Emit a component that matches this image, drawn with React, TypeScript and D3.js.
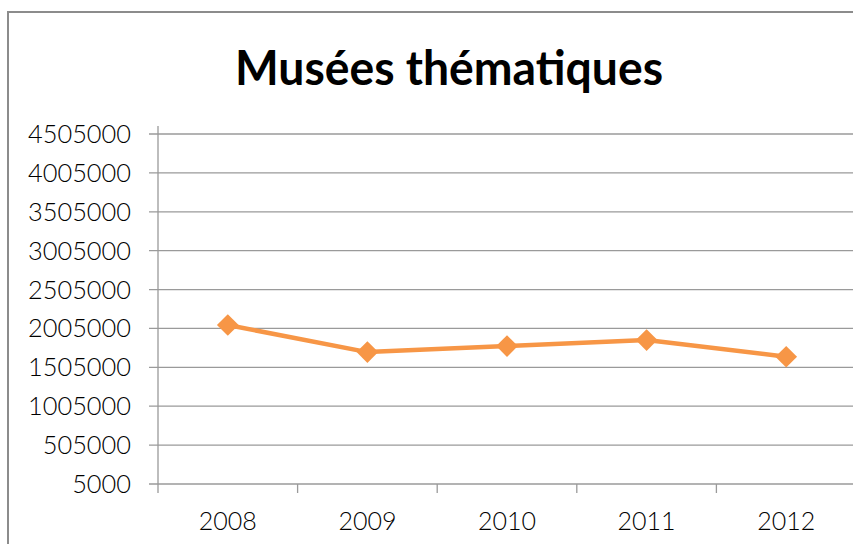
import React, { useRef, useEffect } from 'react';
import * as d3 from 'd3';

const title = 'Musées thématiques';
const years = ['2008', '2009', '2010', '2011', '2012'];
const visitors = [2049000, 1701000, 1778000, 1856000, 1641000];
const yTicks = [5000, 505000, 1005000, 1505000, 2005000, 2505000, 3005000, 3505000, 4005000, 4505000];

const W = 853, H = 544;
const FONT = 'Lato, "DejaVu Sans", sans-serif';

export const App: React.FC = () => {
  const svgRef = useRef<SVGSVGElement>(null);

  useEffect(() => {
    const svg = d3.select(svgRef.current as SVGSVGElement);
    svg.selectAll('*').remove();

    const left = 158, top = 134, bottom = 484;
    const band = 139.6;

    const x = d3.scaleBand<string>()
      .domain(years)
      .range([left, left + band * years.length])
      .padding(0);
    const y = d3.scaleLinear().domain([5000, 4505000]).range([bottom, top]);

    // chart frame
    svg.append('rect')
      .attr('x', 8).attr('y', 12)
      .attr('width', 900).attr('height', 600)
      .attr('fill', '#fff')
      .attr('stroke', '#8c8c8c')
      .attr('stroke-width', 2);

    // title
    svg.append('text')
      .attr('x', 449).attr('y', 85)
      .attr('text-anchor', 'middle')
      .attr('font-family', FONT)
      .attr('font-weight', 'bold')
      .attr('font-size', 47)
      .attr('textLength', 428)
      .attr('lengthAdjust', 'spacingAndGlyphs')
      .attr('fill', '#000')
      .text(title);

    // gridlines + y ticks
    const g = svg.append('g');
    yTicks.forEach(t => {
      g.append('line')
        .attr('x1', left - 9).attr('x2', W + 10)
        .attr('y1', y(t)).attr('y2', y(t))
        .attr('stroke', '#9a9a9a').attr('stroke-width', 1.3);
      g.append('text')
        .attr('x', 131).attr('y', y(t) + 9)
        .attr('text-anchor', 'end')
        .attr('font-family', FONT)
        .attr('font-weight', 300)
        .attr('font-size', 25)
        .attr('textLength', 103 * String(t).length / 7)
        .attr('lengthAdjust', 'spacingAndGlyphs')
        .attr('fill', '#000')
        .text(String(t));
    });

    // y axis
    g.append('line')
      .attr('x1', left).attr('x2', left)
      .attr('y1', top - 8).attr('y2', bottom + 9)
      .attr('stroke', '#9a9a9a').attr('stroke-width', 1.3);

    // x ticks between categories, labels centred in each band
    years.forEach((yr, i) => {
      const xt = x(yr) as number;
      if (i > 0) {
        g.append('line')
          .attr('x1', xt).attr('x2', xt)
          .attr('y1', bottom).attr('y2', bottom + 9)
          .attr('stroke', '#9a9a9a').attr('stroke-width', 1.3);
      }
      g.append('text')
        .attr('x', xt + x.bandwidth() / 2)
        .attr('y', 530)
        .attr('text-anchor', 'middle')
        .attr('font-family', FONT)
        .attr('font-weight', 300)
        .attr('font-size', 25)
        .attr('fill', '#000')
        .text(yr);
    });

    const cx = (i: number) => (x(years[i]) as number) + x.bandwidth() / 2;

    const line = d3.line<number>()
      .x((_, i) => cx(i))
      .y(d => y(d));

    svg.append('path')
      .datum(visitors)
      .attr('fill', 'none')
      .attr('stroke', '#f79646')
      .attr('stroke-width', 4.5)
      .attr('stroke-linejoin', 'round')
      .attr('d', line as any);

    const diamond = d3.symbol().type(d3.symbolDiamond2).size(300);
    svg.selectAll('path.mark')
      .data(visitors)
      .enter()
      .append('path')
      .attr('class', 'mark')
      .attr('transform', (d, i) => `translate(${cx(i)},${y(d)})`)
      .attr('d', diamond as any)
      .attr('fill', '#f79646');
  }, []);

  return (
    <svg
      ref={svgRef}
      width={W}
      height={H}
      style={{ position: 'absolute', left: 0, top: 0, display: 'block', background: '#fff' }}
    />
  );
};

export default App;
